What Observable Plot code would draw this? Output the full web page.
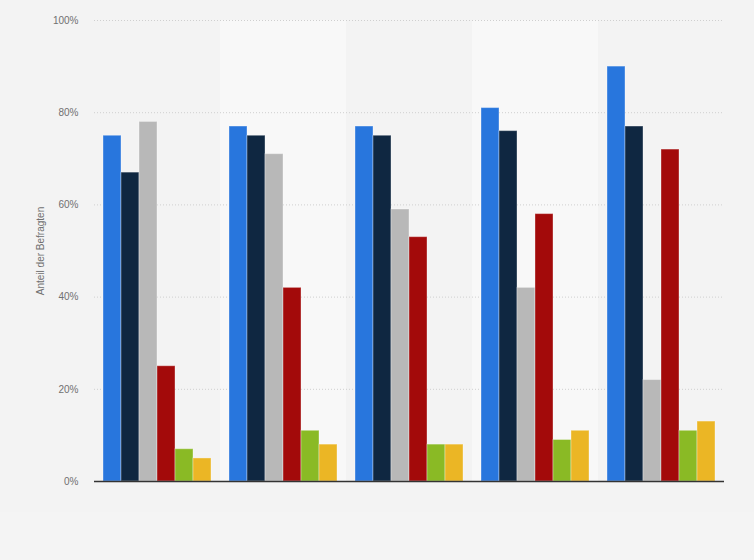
<!DOCTYPE html>
<html>
<head>
<meta charset="utf-8">
<script src="https://cdn.jsdelivr.net/npm/d3@7"></script>
<script src="https://cdn.jsdelivr.net/npm/@observablehq/plot@0.6"></script>
<style>
  html, body { margin: 0; padding: 0; background: #f4f4f4; }
  #chart { width: 754px; height: 560px; }
</style>
</head>
<body>
<div id="chart"></div>
<script>
const groups = ["Gruppe 1", "Gruppe 2", "Gruppe 3", "Gruppe 4", "Gruppe 5"];
const series = ["Reihe 1", "Reihe 2", "Reihe 3", "Reihe 4", "Reihe 5", "Reihe 6"];
const colors = ["#2876dd", "#0f2741", "#b8b8b8", "#a30a0a", "#8aba25", "#ebb625"];
const reihe1 = [75, 77, 77, 81, 90];
const reihe2 = [67, 75, 75, 76, 77];
const reihe3 = [78, 71, 59, 42, 22];
const reihe4 = [25, 42, 53, 58, 72];
const reihe5 = [7, 11, 8, 9, 11];
const reihe6 = [5, 8, 8, 11, 13];
const yTicks = [0, 20, 40, 60, 80, 100];
const shadedGroups = ["Gruppe 2", "Gruppe 4"];

const values = [reihe1, reihe2, reihe3, reihe4, reihe5, reihe6];
const data = groups.flatMap((g, i) => series.map((s, j) => ({group: g, series: s, value: values[j][i]})));
const shaded = shadedGroups.map(g => ({group: g}));

const chart = Plot.plot({
  width: 754,
  height: 512,
  marginLeft: 93,
  marginRight: 30,
  marginTop: 20,
  marginBottom: 31,
  style: {background: "#f3f3f3", fontFamily: "'Liberation Sans', Arial, sans-serif", fontSize: "10px", color: "#707070"},
  fx: {domain: groups, padding: 0, axis: null},
  x: {domain: series, paddingInner: 0, paddingOuter: 0.5, axis: null},
  y: {domain: [0, 100], ticks: yTicks, tickFormat: d => d + "%", tickSize: 0, tickPadding: 16,
      label: "Anteil der Befragten", labelAnchor: "center", labelArrow: "none", labelOffset: 58},
  color: {domain: series, range: colors},
  marks: [
    Plot.barY(shaded, {fx: "group", y1: 0, y2: 100, fill: "#f8f8f8"}),
    Plot.ruleY(yTicks.filter(t => t > 0), {stroke: "#cfcfcf", strokeDasharray: "1,2"}),
    Plot.barY(data, {fx: "group", x: "series", y: "value", fill: "series", stroke: "#ffffff", strokeOpacity: 0.35}),
    Plot.ruleY([0], {stroke: "#333", strokeWidth: 1.5})
  ]
});
document.getElementById("chart").appendChild(chart);
</script>
</body>
</html>
